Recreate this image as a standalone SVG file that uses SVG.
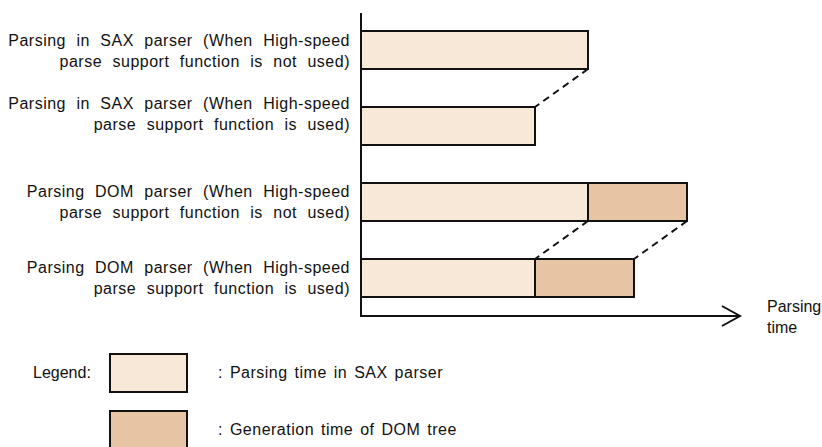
<svg xmlns="http://www.w3.org/2000/svg" width="822" height="447" viewBox="0 0 822 447">
<style>
text{font-family:"Liberation Sans",Arial,sans-serif;font-size:16px;fill:#111;letter-spacing:0.5px;word-spacing:2px}
.l{text-anchor:end;word-spacing:5.5px}
.n{letter-spacing:0}
.sax{fill:#F8E8D8;stroke:#111;stroke-width:2}
.dom{fill:#E6C4A4;stroke:#111;stroke-width:2}
.dash{stroke:#111;stroke-width:2;stroke-dasharray:7,5;fill:none}
.ax{stroke:#111;stroke-width:2;fill:none}
</style>
<g id="labels">
<text class="l" x="350" y="46">Parsing in SAX parser (When High-speed</text>
<text class="l" x="350" y="67">parse support function is not used)</text>
<text class="l" x="350" y="109">Parsing in SAX parser (When High-speed</text>
<text class="l" x="350" y="130">parse support function is used)</text>
<text class="l" x="350" y="197">Parsing DOM parser (When High-speed</text>
<text class="l" x="350" y="218">parse support function is not used)</text>
<text class="l" x="350" y="273">Parsing DOM parser (When High-speed</text>
<text class="l" x="350" y="294">parse support function is used)</text>
</g>
<g id="bar1"><rect class="sax" x="361" y="31" width="227" height="38"/></g>
<g id="bar2"><rect class="sax" x="361" y="107" width="174" height="38"/></g>
<g id="bar3"><rect class="sax" x="361" y="183" width="227" height="38"/><rect class="dom" x="588" y="183" width="99" height="38"/></g>
<g id="bar4"><rect class="sax" x="361" y="259" width="174" height="38"/><rect class="dom" x="535" y="259" width="99" height="38"/></g>
<g id="connectors">
<line class="dash" x1="588" y1="69" x2="535" y2="107"/>
<line class="dash" x1="588" y1="221" x2="535" y2="259"/>
<line class="dash" x1="687" y1="221" x2="634" y2="259"/>
</g>
<g id="axes">
<line class="ax" x1="361" y1="13" x2="361" y2="317"/>
<line class="ax" x1="360" y1="316" x2="740" y2="316"/>
<polyline class="ax" points="722,306 740,316 722,326"/>
<text class="n" x="767" y="312">Parsing</text>
<text class="n" x="767" y="333">time</text>
</g>
<g id="legend">
<text class="n" x="33" y="378">Legend:</text>
<rect class="sax" x="110" y="354" width="77" height="38"/>
<text x="218" y="378">: Parsing time in SAX parser</text>
<rect class="dom" x="110" y="411" width="77" height="38"/>
<text x="218" y="435">: Generation time of DOM tree</text>
</g>
</svg>
